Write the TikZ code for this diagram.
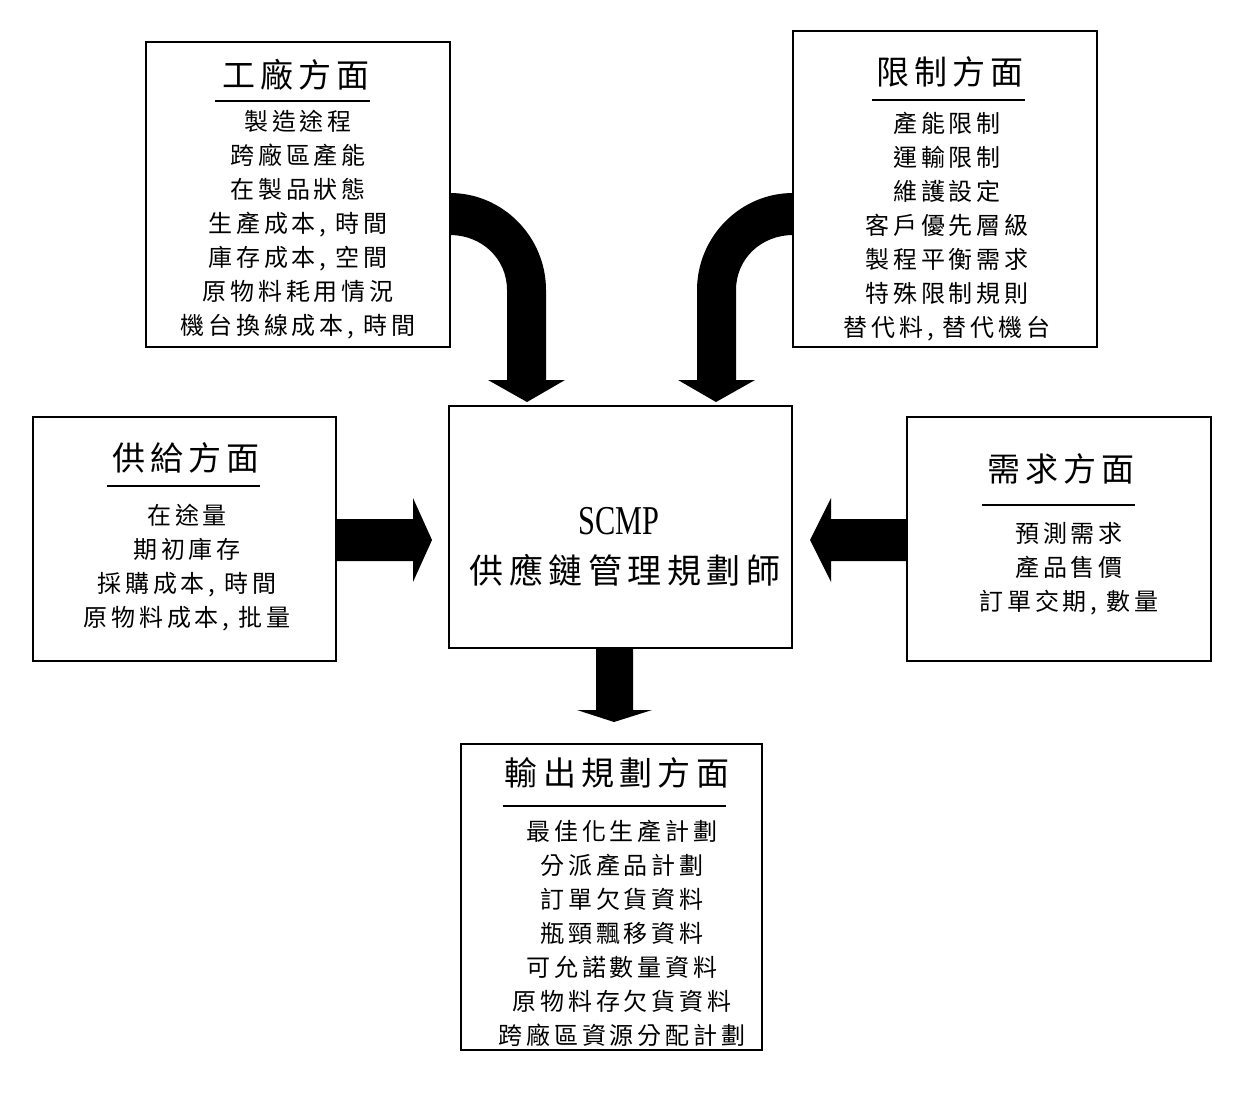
\documentclass[tikz,border=0pt]{standalone}
\usepackage{fontspec}
\setmainfont{Liberation Serif}
\newfontfamily\cjk[LetterSpace=16]{Noto Sans CJK TC}
\newfontfamily\narrowserif[FakeStretch=0.74]{Liberation Serif}

\begin{document}
\begin{tikzpicture}[x=1pt, y=-1pt,
  box/.style={draw, line width=1.3pt, inner sep=0pt},
  heading/.style={font=\fontsize{33}{40}\selectfont\cjk},
  items/.style={align=center, font=\fontsize{24}{34}\selectfont\cjk},
  rule/.style={line width=1.2pt},
  blockarrow/.style={fill=black}]

\useasboundingbox (0,0) rectangle (1241,1093);

% Outer boxes
\node[box, minimum width=304, minimum height=305] (plant) at (298,194.5) {};
\node[box, minimum width=304, minimum height=316] (limit) at (945,189) {};
\node[box, minimum width=303, minimum height=244] (supply) at (184.5,539) {};
\node[box, minimum width=343, minimum height=242] (scmp) at (620.5,527) {};
\node[box, minimum width=304, minimum height=244] (demand) at (1059,539) {};
\node[box, minimum width=301, minimum height=306] (output) at (611.5,897) {};

% Plant side (top left)
\node[heading] (plantTitle) at (296,75) {工廠方面};
\draw[rule] (215,101) -- (370,101);
\node[items] (plantItems) at (298,225) {製造途程\\跨廠區產能\\在製品狀態\\生產成本, 時間\\庫存成本, 空間\\原物料耗用情況\\機台換線成本, 時間};

% Constraint side (top right)
\node[heading] (limitTitle) at (950,72) {限制方面};
\draw[rule] (872,100) -- (1025,100);
\node[items] (limitItems) at (947,226.5) {產能限制\\運輸限制\\維護設定\\客戶優先層級\\製程平衡需求\\特殊限制規則\\替代料, 替代機台};

% Supply side (left)
\node[heading] (supplyTitle) at (186,458) {供給方面};
\draw[rule] (107,486) -- (260,486);
\node[items] (supplyItems) at (187,567.5) {在途量\\期初庫存\\採購成本, 時間\\原物料成本, 批量};

% Demand side (right)
\node[heading] (demandTitle) at (1061,469) {需求方面};
\draw[rule] (982,505) -- (1135,505);
\node[items] (demandItems) at (1069,569) {預測需求\\產品售價\\訂單交期, 數量};

% Planner (centre)
\node[font=\fontsize{41}{48}\selectfont\narrowserif] (scmpName) at (619,521.5) {SCMP};
\node[font=\fontsize{34}{40}\selectfont\cjk] (scmpTitle) at (625,570) {供應鏈管理規劃師};

% Output side (bottom)
\node[heading] (outputTitle) at (617,773) {輸出規劃方面};
\draw[rule] (503,806) -- (726,806);
\node[items] (outputItems) at (622,933.5) {最佳化生產計劃\\分派產品計劃\\訂單欠貨資料\\瓶頸飄移資料\\可允諾數量資料\\原物料存欠貨資料\\跨廠區資源分配計劃};

% Curved arrow from plant box
\fill[blockarrow] (450,193) .. controls (503,193) and (546,237) .. (546,290) -- (546,380)
  -- (565,380) -- (527,402) -- (488,380) -- (507,380) -- (507,290)
  .. controls (507,258.5) and (481.5,235) .. (450,235) -- cycle;

% Curved arrow from constraint box
\fill[blockarrow] (793,193) .. controls (740,193) and (697,237) .. (697,290) -- (697,380)
  -- (678,380) -- (716,402) -- (755,380) -- (736,380) -- (736,290)
  .. controls (736,258.5) and (761.5,235) .. (793,235) -- cycle;

% Straight arrows
\fill[blockarrow] (336,519) -- (413,519) -- (413,498) -- (432,540) -- (413,582) -- (413,561) -- (336,561) -- cycle;
\fill[blockarrow] (907,519) -- (831,519) -- (831,498) -- (810,540) -- (831,582) -- (831,561) -- (907,561) -- cycle;
\fill[blockarrow] (596,649) -- (633,649) -- (633,710) -- (652,710) -- (614,722) -- (577,710) -- (596,710) -- cycle;

\end{tikzpicture}
\end{document}
